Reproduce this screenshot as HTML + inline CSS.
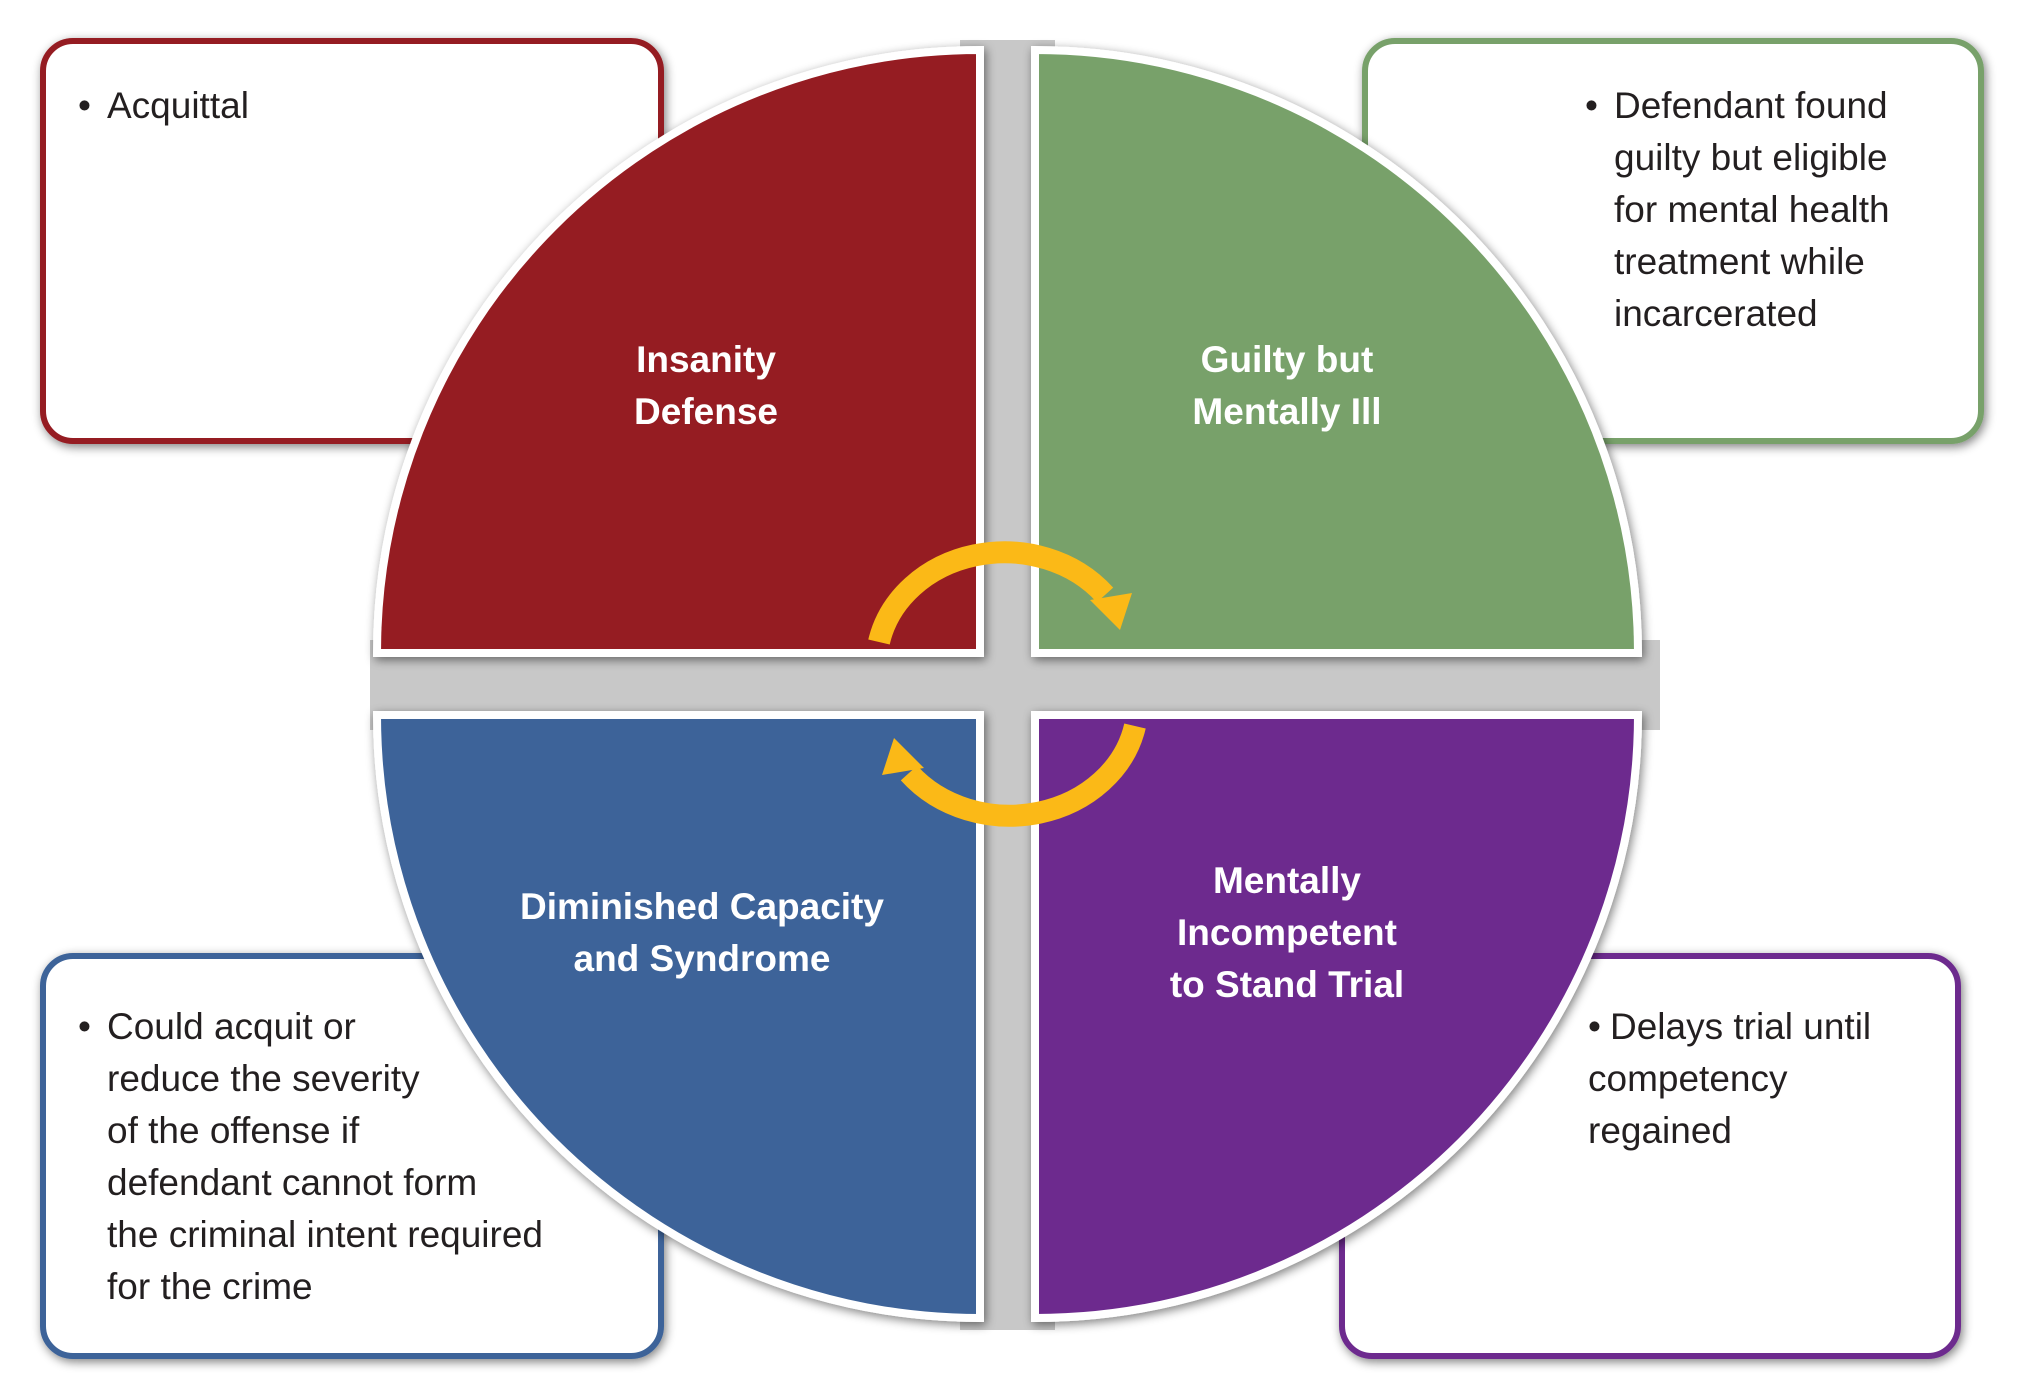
<!DOCTYPE html>
<html><head><meta charset="utf-8"><style>
html,body{margin:0;padding:0;background:#fff;}
svg{display:block}
</style></head><body>
<svg width="2017" height="1396" viewBox="0 0 2017 1396" xmlns="http://www.w3.org/2000/svg">
<defs>
<filter id="sh" x="-10%" y="-10%" width="120%" height="120%"><feGaussianBlur in="SourceAlpha" stdDeviation="5"/><feOffset dx="2" dy="3"/><feComponentTransfer><feFuncA type="linear" slope="0.5"/></feComponentTransfer><feMerge><feMergeNode/><feMergeNode in="SourceGraphic"/></feMerge></filter>
</defs>
<g fill="#fff" stroke-width="6" filter="url(#sh)">
<rect x="43" y="41" width="618" height="400" rx="30" stroke="#951b20"/>
<rect x="1365" y="41" width="616" height="400" rx="30" stroke="#78a16a"/>
<rect x="43" y="956" width="618" height="400" rx="30" stroke="#3c6399"/>
<rect x="1342" y="956" width="616" height="400" rx="30" stroke="#6d2c8e"/>
</g>
<rect x="960" y="40" width="95" height="1290" fill="#c8c8c8"/>
<rect x="370" y="640" width="1290" height="90" fill="#c8c8c8"/>
<g stroke="#fff" stroke-width="8" filter="url(#sh)">
<path d="M980 653 L377 653 A603 603 0 0 1 980 50 Z" fill="#951b20"/>
<path d="M1035 653 L1035 50 A603 603 0 0 1 1638 653 Z" fill="#78a16a"/>
<path d="M980 715 L980 1318 A603 603 0 0 1 377 715 Z" fill="#3c6399"/>
<path d="M1035 715 L1638 715 A603 603 0 0 1 1035 1318 Z" fill="#6d2c8e"/>
</g>
<g fill="none" stroke="#fbb917" stroke-width="22">
<path d="M879 642 A128 112 0 0 1 1105 595"/>
<path d="M1135 726 A128 112 0 0 1 909 773"/>
</g>
<g fill="#fbb917">
<polygon points="1090,600 1132,593 1120,630"/>
<polygon points="924,768 882,775 894,738"/>
</g>
<g font-family="'Liberation Sans',sans-serif" font-weight="bold" font-size="37" fill="#fff" text-anchor="middle">
<text x="706" y="372">Insanity</text><text x="706" y="424">Defense</text>
<text x="1287" y="372">Guilty but</text><text x="1287" y="424">Mentally Ill</text>
<text x="702" y="919">Diminished Capacity</text><text x="702" y="971">and Syndrome</text>
<text x="1287" y="893">Mentally</text><text x="1287" y="945">Incompetent</text><text x="1287" y="997">to Stand Trial</text>
</g>
<g font-family="'Liberation Sans',sans-serif" font-size="37" fill="#231f20">
<text x="78" y="118">•</text><text x="107" y="118">Acquittal</text>
<text x="1585" y="118">•</text>
<text x="1614" y="118">Defendant found</text><text x="1614" y="170">guilty but eligible</text><text x="1614" y="222">for mental health</text><text x="1614" y="274">treatment while</text><text x="1614" y="326">incarcerated</text>
<text x="78" y="1039">•</text>
<text x="107" y="1039">Could acquit or</text><text x="107" y="1091">reduce the severity</text><text x="107" y="1143">of the offense if</text><text x="107" y="1195">defendant cannot form</text><text x="107" y="1247">the criminal intent required</text><text x="107" y="1299">for the crime</text>
<text x="1588" y="1039">•</text>
<text x="1610" y="1039">Delays trial until</text><text x="1588" y="1091">competency</text><text x="1588" y="1143">regained</text>
</g>
</svg>
</body></html>
